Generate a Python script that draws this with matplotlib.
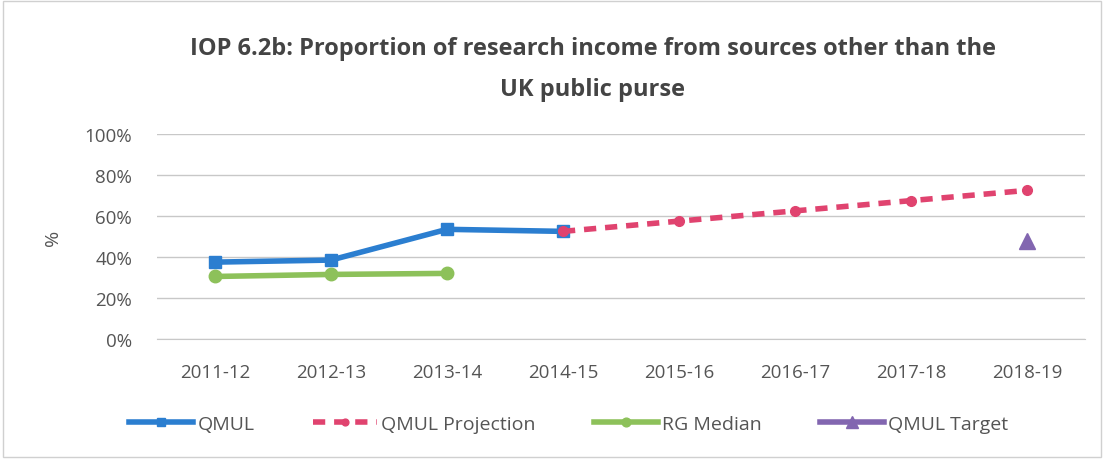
import matplotlib
matplotlib.use("Agg")
import matplotlib.pyplot as plt
from matplotlib.ticker import PercentFormatter

categories = ["2011-12", "2012-13", "2013-14", "2014-15", "2015-16", "2016-17", "2017-18", "2018-19"]
qmul = [37.5, 38.5, 53.5, 52.5]
projection = [52.5, 57.5, 62.5, 67.5, 72.5]
rg_median = [30.5, 31.5, 32.0]
target = [48.0]
y_ticks = [0, 20, 40, 60, 80, 100]

plt.rcParams['font.family'] = ['Open Sans', 'DejaVu Sans']

fig = plt.figure(figsize=(11.04, 4.6), dpi=100)
ax = fig.add_axes([157/1104, 120/460, (1085-157)/1104, 205/460])

x = list(range(len(categories)))
l1, = ax.plot(x[0:4], qmul, color="#2B7ED0", lw=4, marker="s", ms=8, label="QMUL", zorder=4)
l2, = ax.plot(x[3:8], projection, color="#E0436F", lw=4, ls=(0, (2.2, 1.6)), marker="o", ms=7,
              label="QMUL Projection", zorder=5)
l3, = ax.plot(x[0:3], rg_median, color="#8DC15A", lw=4, marker="o", ms=9, label="RG Median", zorder=3)
l4, = ax.plot(x[7:8], target, color="#8266B0", lw=4, marker="^", ms=12, ls="-", label="QMUL Target", zorder=4)

ax.set_xlim(-0.5, 7.5)
ax.set_ylim(0, 100)
ax.set_yticks(y_ticks)
ax.yaxis.set_major_formatter(PercentFormatter(decimals=0))
ax.set_xticks(x)
ax.set_xticklabels(categories)
ax.grid(axis="y", color="#C8C8C8", lw=1)
ax.set_axisbelow(True)
for s in ["top", "right", "left"]:
    ax.spines[s].set_visible(False)
ax.spines["bottom"].set_color("#C8C8C8")
ax.tick_params(axis="both", length=0, labelsize=13.5, colors="#555555")
ax.tick_params(axis="y", pad=18)
ax.tick_params(axis="x", pad=17)
ax.set_ylabel("%", fontsize=14, color="#555555", labelpad=16)

fig.text(0.537, 0.893, "IOP 6.2b: Proportion of research income from sources other than the",
         ha="center", va="center", fontsize=17, fontweight="bold", color="#444444")
fig.text(0.537, 0.805, "UK public purse",
         ha="center", va="center", fontsize=17, fontweight="bold", color="#444444")

leg = fig.legend(handles=[l1, l2, l3, l4], loc="center", bbox_to_anchor=(0.515, 0.077), ncol=4,
                 frameon=False, fontsize=14, handlelength=3.3, columnspacing=3.0, handletextpad=0.2,
                 markerscale=0.7)
for t in leg.get_texts():
    t.set_color("#555555")

fig.patches.append(plt.Rectangle((0.003, 0.004), 0.994, 0.992, transform=fig.transFigure,
                                 fill=False, edgecolor="#D0D0D0", lw=1))
fig.savefig("out.png", dpi=100, facecolor="white")
